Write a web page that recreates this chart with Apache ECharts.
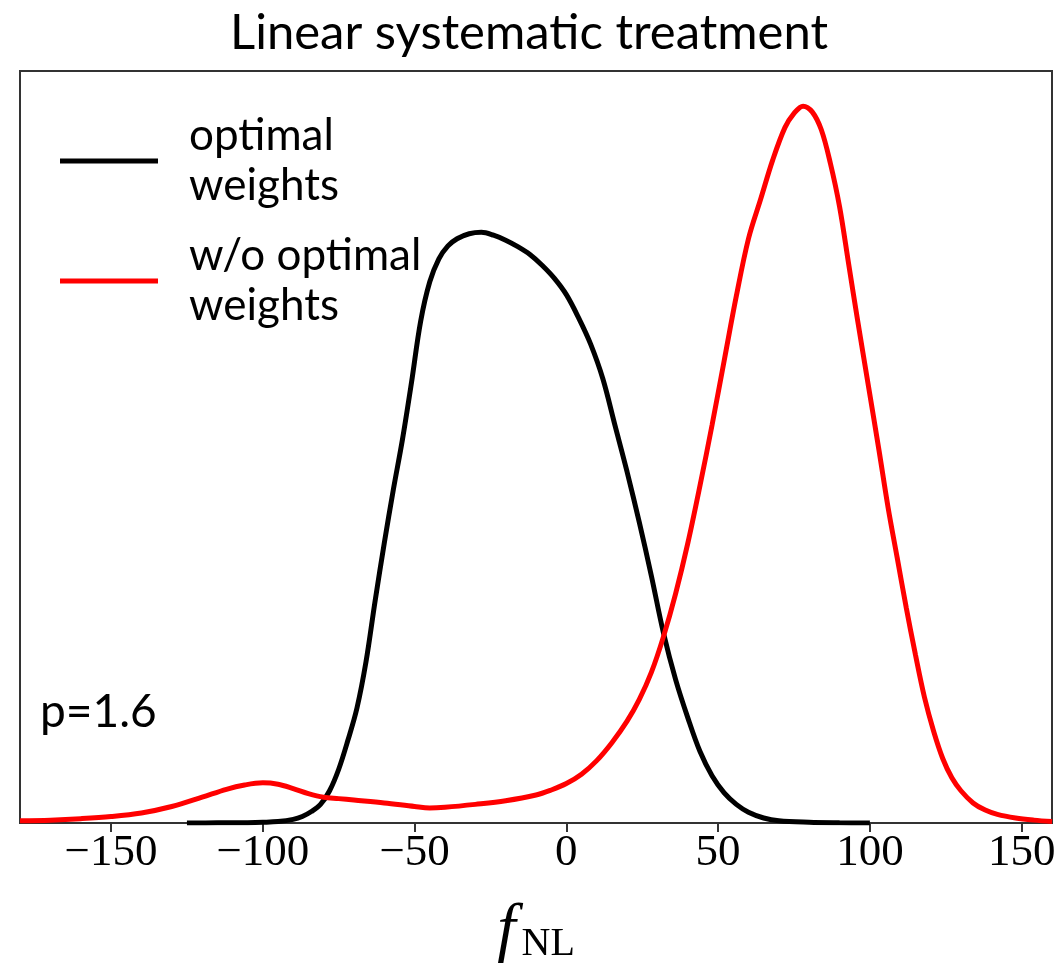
<!DOCTYPE html>
<html>
<head>
<meta charset="utf-8">
<script src="https://cdn.jsdelivr.net/npm/echarts@6/dist/echarts.min.js"></script>
<style>html,body{margin:0;padding:0;background:#fff;}#c{width:1058px;height:971px;}</style>
</head>
<body>
<div id="c"></div>
<script>
const titleText = 'Linear systematic treatment';
const annotation = 'p=1.6';
const seriesNames = ['optimal weights', 'w/o optimal weights'];
const legendLabels = ['optimal\nweights', 'w/o optimal\nweights'];
const xTickValues = [-150, -100, -50, 0, 50, 100, 150];

// black curve: optimal weights  [fNL, density (normalised)]
const optimalX = [-125,-115,-105,-100,-95,-90,-87,-84,-81,-78,-75,-72,-69,-66,-63,-60,-57,-54,-51,-48,-45,-42,-39,-36,-32,-28,-24,-20,-16,-12,-8,-4,0,4,8,12,16,20,24,28,32,36,40,44,48,52,56,60,65,70,80,90,100];
const optimalY = [0,0.0002,0.0005,0.001,0.002,0.005,0.009,0.016,0.026,0.045,0.075,0.115,0.16,0.225,0.31,0.39,0.465,0.535,0.615,0.7,0.755,0.787,0.805,0.815,0.822,0.824,0.82,0.813,0.804,0.793,0.778,0.76,0.737,0.705,0.668,0.62,0.555,0.49,0.42,0.345,0.265,0.2,0.147,0.1,0.066,0.042,0.026,0.015,0.007,0.003,0.001,0.0003,0];

// red curve: w/o optimal weights
const noOptX = [-180,-170,-160,-150,-140,-130,-120,-112,-106,-100,-95,-90,-85,-80,-75,-70,-60,-50,-45,-40,-30,-20,-10,-5,0,5,10,15,20,24,28,32,36,40,44,48,52,56,60,64,68,72,75,78,81,84,87,90,93,96,99.5,103,106,109,112,115,118,121,124,127,130,134,138,142,148,154,160];
const noOptY = [0.003,0.004,0.006,0.009,0.014,0.023,0.036,0.047,0.053,0.056,0.054,0.048,0.041,0.036,0.034,0.032,0.028,0.023,0.021,0.022,0.026,0.031,0.039,0.046,0.055,0.068,0.087,0.112,0.142,0.172,0.21,0.26,0.32,0.39,0.47,0.555,0.645,0.735,0.815,0.87,0.925,0.97,0.99,1.0,0.992,0.967,0.92,0.86,0.78,0.7,0.61,0.52,0.44,0.37,0.3,0.235,0.175,0.128,0.09,0.063,0.045,0.028,0.018,0.012,0.007,0.004,0.002];

const zip = (xs, ys) => xs.map((x, i) => [x, ys[i]]);
const sans = 'Lato, "Open Sans", sans-serif';
const serif = '"Liberation Serif", "DejaVu Serif", serif';

const chart = echarts.init(document.getElementById('c'), null, {renderer: 'canvas'});
chart.setOption({
  animation: false,
  backgroundColor: '#fff',
  title: {
    text: titleText,
    left: 'center',
    top: 4,
    textStyle: {fontFamily: sans, fontSize: 49, fontWeight: 'normal', color: '#000'}
  },
  grid: {left: 20, right: 6, top: 71, bottom: 148, show: true, borderColor: '#333', borderWidth: 2, backgroundColor: 'transparent', containLabel: false, outerBoundsMode: 'none'},
  legend: {
    orient: 'vertical',
    left: 55,
    top: 106,
    itemGap: 20,
    itemWidth: 98,
    itemHeight: 5,
    icon: 'rect',
    data: seriesNames,
    formatter: name => legendLabels[seriesNames.indexOf(name)],
    textStyle: {fontFamily: sans, fontSize: 44, lineHeight: 50, color: '#000', padding: [0, 0, 0, 26]}
  },
  xAxis: {
    type: 'value',
    min: -180,
    max: 160,
    splitLine: {show: false},
    axisLine: {show: true, onZero: false, lineStyle: {color: '#333', width: 2}},
    axisTick: {show: true, customValues: xTickValues, length: 9, inside: false, lineStyle: {color: '#333', width: 2}},
    axisLabel: {
      customValues: xTickValues,
      margin: 8,
      fontFamily: serif,
      fontSize: 45,
      color: '#000',
      formatter: v => (v < 0 ? '\u2212' + Math.abs(v) : String(v))
    },
    name: '{f|f}{s|NL}',
    nameLocation: 'middle',
    nameGap: 76,
    nameTextStyle: {
      rich: {
        f: {fontFamily: serif, fontStyle: 'italic', fontSize: 66, color: '#000'},
        s: {fontFamily: serif, fontSize: 40, color: '#000', padding: [24, 0, 0, 6]}
      }
    }
  },
  yAxis: {
    type: 'value',
    min: 0,
    max: 1.049,
    show: false,
    splitLine: {show: false}
  },
  series: [
    {
      name: seriesNames[0],
      type: 'line',
      data: zip(optimalX, optimalY),
      smooth: 0.35,
      showSymbol: false,
      color: '#000',
      lineStyle: {color: '#000', width: 5},
      z: 3
    },
    {
      name: seriesNames[1],
      type: 'line',
      data: zip(noOptX, noOptY),
      smooth: 0.35,
      showSymbol: false,
      color: '#ff0000',
      lineStyle: {color: '#ff0000', width: 5},
      z: 4
    }
  ],
  graphic: [
    {
      type: 'text',
      x: 40,
      y: 712,
      style: {text: annotation, fontFamily: sans, fontSize: 46, fill: '#000', verticalAlign: 'middle', textVerticalAlign: 'middle'}
    }
  ]
});
</script>
</body>
</html>
